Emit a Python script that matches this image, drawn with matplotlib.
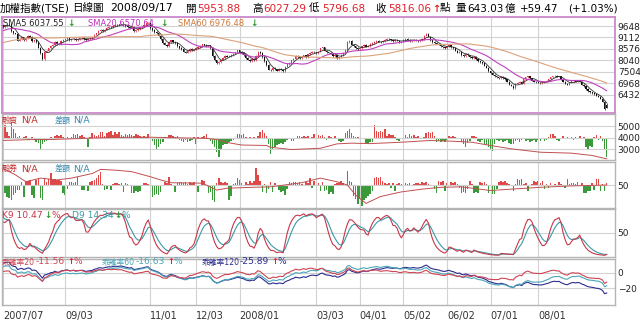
import numpy as np
import pandas as pd
import matplotlib
matplotlib.use("Agg")
import matplotlib.pyplot as plt

plt.rcParams['font.family'] = ['DejaVu Sans', 'Noto Sans CJK TC']

# ---- values: TAIEX daily, 2007/07/23 .. 2008/09/17 ----
# closes before the first visible bar, only used to warm up SMA60/120 and KD
pre_closes = [
    7900, 7920, 7950, 7980, 7960, 8000, 8020, 7990, 8050, 8080, 8100, 8060, 8120, 8150, 8100, 8130, 8080, 7950, 7800, 7850,
    7900, 7950, 7980, 8020, 8050, 8000, 7980, 8030, 8070, 8100, 8120, 8150, 8180, 8140, 8200, 8230, 8250, 8220, 8260, 8300,
    8280, 8320, 8350, 8330, 8380, 8400, 8420, 8380, 8350, 8400, 8450, 8430, 8470, 8500, 8480, 8450, 8500, 8520, 8480, 8510,
    8330, 8300, 8270, 8250, 8230, 8270, 8300, 8330, 8370, 8400, 8380, 8350, 8410, 8450, 8430, 8470, 8500, 8530, 8550, 8570,
    8600, 8650, 8680, 8700, 8660, 8620, 8650, 8700, 8750, 8730, 8780, 8800, 8770, 8820, 8850, 8900, 8880, 8920, 8950, 8980,
    9100, 9050, 9120, 9180, 9250, 9220, 9300, 9350, 9400, 9380, 9450, 9500, 9480, 9550, 9600, 9620, 9580, 9650, 9700, 9680,
]

closes = (
    [9580, 9650, 9700, 9720, 9400, 9300, 9290]                                   # 2007/07
    + [8970, 9040, 9120, 9000, 9080, 9190, 9150, 8930, 8980, 8900, 8640, 8370,
       8090, 8450, 8500, 8600, 8720, 8750, 8900, 8800, 8800, 8950, 9000]          # 08
    + [9050, 9080, 9000, 9020, 9060, 8990, 9030, 9070, 9100, 9050, 8980, 9040,
       9080, 9120, 9250, 9300, 9420, 9450, 9410]                                  # 09
    + [9480, 9550, 9600, 9580, 9640, 9700, 9680, 9720, 9760, 9700, 9650, 9600,
       9560, 9620, 9420, 9450, 9520, 9580, 9620, 9700, 9780, 9800]                # 10
    + [9550, 9450, 9380, 9300, 9200, 9050, 8850, 8780, 8720, 8900, 8980, 8900,
       8850, 8700, 8620, 8560, 8450, 8400, 8480, 8580, 8520, 8560]                # 11
    + [8620, 8660, 8720, 8790, 8760, 8700, 8740, 8620, 8250, 8050, 7920, 7960,
       8080, 8150, 8260, 8220, 8240, 8300, 8350, 8420, 8506]                      # 12
    + [8450, 8380, 8300, 8150, 8080, 8020, 8100, 8050, 8250, 8450, 8380, 8200,
       8000, 7820, 7600, 7580, 7680, 7620, 7560, 7640, 7600, 7540]                # 2008/01
    + [7750, 7850, 7920, 8050, 8120, 8250, 8200, 8150, 8220, 8280, 8200, 8320,
       8400, 8450, 8412]                                                          # 02
    + [8380, 8450, 8600, 8650, 8500, 8420, 8400, 8350, 8250, 8300, 8150, 8180,
       8300, 8400, 8520, 8900, 8950, 8780, 8700, 8620, 8572]                      # 03
    + [8620, 8700, 8760, 8680, 8720, 8800, 8850, 8900, 8950, 8920, 8880, 8950,
       9000, 9050, 9020, 8980, 8950, 9000, 8960, 8900, 8919]                      # 04
    + [9000, 9030, 9000, 8950, 8980, 9010, 8960, 8950, 9000, 9050, 9200, 9290,
       9150, 8980, 8900, 8850, 8820, 8780, 8700, 8650, 8619]                      # 05
    + [8700, 8750, 8650, 8600, 8500, 8400, 8450, 8300, 8250, 8350, 8280, 8200,
       8150, 8220, 8100, 8000, 7950, 7900, 7800, 7700, 7523]                      # 06
    + [7450, 7380, 7300, 7250, 7200, 7280, 7220, 7150, 7050, 6900, 6850, 6750,
       6950, 7000, 7050, 6950, 7150, 7250, 7300, 7200, 7100, 7050, 7024]          # 07
    + [7000, 6980, 6990, 7050, 7100, 7150, 7250, 7300, 7320, 7280, 7300, 7150,
       7050, 6950, 6900, 7000, 7080, 7100, 7050, 7080, 7046]                      # 08
    + [6900, 6820, 6700, 6600, 6550, 6500, 6450, 6380, 6350, 6250, 6100,
       5756.59, 5816.06]                                                          # 09
)
last_open, last_high, last_low = 5953.88, 6027.29, 5796.68

tick_idx = [0, 30, 71, 93, 114, 151, 172, 193, 214, 235, 258]
tick_labels = ['2007/07', '09/03', '11/01', '12/03', '2008/01', '03/03',
               '04/01', '05/02', '06/02', '07/01', '08/01']

# 融資 daily change (bars) and balance (line)
margin_chg = [
    8, 13, 6, 2, 15, 9, 5, 1, 2, -1, 1, 2, -2, -1, 1, -2, -4, -5, -12, -6,
    -4, -3, -2, 1, 0, 2, 3, 2, 3, 1, 0, 1, -1, 1, 4, 3, 4, 2, 3, 1,
    0, -9, 1, 5, 3, 2, 3, 6, 6, 2, 5, 6, 7, 3, 6, 4, 6, 3, 2, 4,
    3, 4, 3, 2, 4, 3, 2, 1, 2, 1, 4, -4, -3, -7, -12, -9, -6, -4, 1, 0,
    3, 3, 2, 1, 2, -2, -3, -4, -2, -4, -3, -2, 1, -6, 1, 0, 1, 2, 4, 0,
    -3, -6, -9, -14, -19, -11, -7, -6, -6, -4, -3, -2, -1, 4, 4, 3, 4, 1, 0, 1,
    -1, 1, 0, 2, 6, 8, 5, 2, -6, -16, -12, -9, -7, -6, -5, -6, -4, -2, 0, -3,
    -3, 0, 2, 2, 1, 2, 1, 2, 0, 1, 4, 4, 3, 2, 3, 1, -2, 2, 1, 0,
    2, -1, -3, -4, -3, 5, 7, 9, 5, 2, 1, 1, 0, -1, -1, -5, -6, -4, -4, 13,
    7, 6, 7, 6, 9, 2, 4, 3, 3, 1, -2, -3, 0, 2, 3, 1, 4, 2, 3, 1,
    2, 0, -1, 1, 5, 6, 5, 6, 2, -4, -3, -4, -3, -4, -2, 2, 1, 2, 1, 0,
    -1, -4, -6, -9, -5, -3, 2, 2, 1, -3, -4, -2, -6, -7, -9, -11, -13, -6, -2, -3,
    -2, -4, -3, -2, -5, -6, -6, -3, -2, -4, -2, -1, -3, -2, -4, -3, -2, -4, -2, -3,
    -1, -3, -2, 1, 4, 4, 2, -2, -3, -1, 2, -1, 1, -1, 1, -2, 1, 0, 2, -1,
    1, -9, -11, -8, -9, 1, 3, -2, 2, -3, -12, -19,
]
margin_idx = [0, 14, 23, 47, 63, 71, 98, 103, 108, 115, 127, 129, 139, 153, 161,
              168, 177, 192, 206, 216, 226, 235, 245, 259, 274, 284, 291]
margin_bal = [3770, 3850, 3850, 4000, 4050, 4050, 3950, 3850, 3600, 3380, 3340, 3190, 2990, 3100, 3480,
              3540, 3500, 3620, 3770, 3710, 3620, 3340, 3050, 2760, 2680, 2480, 2190]

# 融券 daily change (bars) and balance (line)
short_chg = [
    0, -7, -11, -12, -14, -9, -7, -4, -4, 4, -11, 5, 5, 6, -9, -12, 6, 8, -12, -14,
    8, 4, 7, 13, 6, 7, 6, 6, 5, -7, -9, -3, 4, 4, 3, 4, 9, 1, -4, -4,
    1, -5, 4, 5, 6, 8, 11, 14, 2, -4, -3, 1, -4, 2, 3, 3, 2, 3, -6, 3,
    2, 1, -7, -7, -5, -6, -5, 1, 3, 3, 2, -7, -11, -9, -8, -9, -6, 1, 4, 3,
    9, 2, 1, -6, 3, 4, 4, 3, 4, 2, 4, 3, 4, 1, -6, 1, 6, 5, 1, -7,
    -6, -14, -16, 3, 8, 4, 3, 4, 3, -14, -10, 2, 3, 8, 6, 3, 1, 4, 2, 5,
    3, 5, 18, 11, 5, -6, 2, -7, -3, 4, -6, 3, 1, -4, -6, -5, -9, -3, 4, 3,
    4, 4, 3, 4, 2, 1, 4, 3, 8, -2, 5, 8, 3, -5, 4, -5, -4, -8, -6, -8,
    2, 3, 3, 5, 3, 2, 15, 5, 4, -10, -13, -18, -13, -20, -14, -12, -10, -8, -5, 8,
    9, 8, 9, 5, 3, 2, 3, -2, 3, -5, 2, 3, 2, 1, 3, 2, 3, 1, 2, 3,
    3, 2, 4, 3, 4, 2, 1, 1, -3, -7, 5, 4, 5, -5, 3, 1, 4, 3, 4, 2,
    -2, -7, -6, -7, -3, 5, 2, -7, -6, -7, 4, 3, 4, 2, -7, 1, -8, -8, -3, 4,
    5, 4, 5, 3, 2, 1, -5, 2, 7, 6, 7, 2, 3, -5, 1, 2, 5, 4, 5, 3,
    5, -3, 2, -2, 3, 1, 2, 1, 4, 2, 1, -2, 7, 2, 3, 3, 2, 4, 1, 3,
    -7, -7, -5, -5, 3, -4, 7, 7, -5, 2, -5, 3,
]
short_idx = [0, 6, 11, 18, 26, 33, 43, 47, 55, 62, 71, 76, 81, 96, 103, 108, 120,
             129, 144, 153, 161, 166, 170, 175, 182, 192, 202, 211, 221, 235, 245,
             259, 274, 291]
short_bal = [86, 72, 57, 65, 61, 65, 75, 84, 82, 79, 68, 61, 55, 54, 39, 43, 45,
             46, 55, 65, 57, 50, 28, 10, 25, 35, 41, 45, 46, 38, 41, 45, 48, 50]

price_ticks = [6432, 6968, 7504, 8040, 8576, 9112, 9648]
margin_ticks = [3000, 4000, 5000]

# ---- indicators ----
n_pre = len(pre_closes)
allc = pd.Series(pre_closes + closes, dtype=float)
cv = allc.values
opens = np.r_[cv[0], cv[:-1]]
opens[-1] = last_open
wick = 0.004 * cv
highs = np.maximum(opens, cv) + wick
lows = np.minimum(opens, cv) - wick
highs[-1], lows[-1] = last_high, last_low

sma = {n: allc.rolling(n).mean().values for n in (5, 20, 60, 120)}
bias = {n: (cv / sma[n] - 1) * 100 for n in (20, 60, 120)}

h9 = pd.Series(highs).rolling(9, min_periods=1).max().values
l9 = pd.Series(lows).rolling(9, min_periods=1).min().values
rsv = (cv - l9) / (h9 - l9) * 100
k = np.empty(len(cv))
d = np.empty(len(cv))
kp = dp = 50.0
for j, r in enumerate(rsv):
    kp = kp * 2 / 3 + r / 3
    dp = dp * 2 / 3 + kp / 3
    k[j], d[j] = kp, dp

vis = slice(n_pre, None)
x = np.arange(len(closes))

# ---- figure ----
W, H = 640, 322
fig = plt.figure(figsize=(W / 100, H / 100), dpi=100)
XL = (-0.5, 295.0)
grid_c = '#d2d2d2'
red = '#e0202a'
green = '#2e9a2e'


def panel(top, bottom, edge='#b4b4b4'):
    ax = fig.add_axes([2 / W, 1 - bottom / H, 613 / W, (bottom - top) / H])
    ax.set_xlim(*XL)
    ax.set_xticks(tick_idx)
    ax.tick_params(axis='x', length=0, labelbottom=False)
    ax.grid(True, color=grid_c, lw=0.8)
    ax.set_axisbelow(True)
    for s in ax.spines.values():
        s.set_color(edge)
        s.set_linewidth(1.0)
    return ax


def right_labels(ax, ticks):
    ax.set_yticks(ticks)
    ax.yaxis.set_ticks_position('right')
    ax.tick_params(axis='y', length=0, pad=2, labelsize=6.5, labelcolor='#222222',
                   labelleft=False, labelright=True)


def bar_twin(ax, lo, hi, vals):
    axb = ax.twinx()
    axb.set_xlim(*XL)
    axb.set_ylim(lo, hi)
    axb.axis('off')
    axb.patch.set_visible(True)
    axb.patch.set_facecolor('white')
    ax.set_zorder(axb.get_zorder() + 1)
    ax.patch.set_visible(False)
    v = np.array(vals)
    axb.bar(x, v, width=0.75, color=np.where(v >= 0, '#e04848', '#3a9a3a'), linewidth=0)
    return axb


def ptext(px, py, s, color, size=6.5, **kw):
    fig.text(px / W, 1 - py / H, s, color=color, fontsize=size,
             ha='left', va='center', **kw)


# main price panel
ax = panel(17, 113, edge='#cc88cc')
for s in ax.spines.values():
    s.set_linewidth(1.3)
ax.set_ylim(5580, 10070)
right_labels(ax, price_ticks)
o, c = opens[vis], cv[vis]
up = c >= o
ccol = np.where(up, '#e0304a', '#111111')
ax.vlines(x, lows[vis], highs[vis], colors=ccol, lw=0.5)
ax.bar(x, np.maximum(np.abs(c - o), 22), bottom=np.minimum(o, c), width=0.62,
       color=ccol, linewidth=0)
ax.plot(x, sma[5][vis], color='#333333', lw=0.6)
ax.plot(x, sma[20][vis], color='#c040c0', lw=0.8)
ax.plot(x, sma[60][vis], color='#dca27a', lw=0.8)

# margin panel
ax1 = panel(114, 159.5)
ax1.set_ylim(2134, 6047)
bar_twin(ax1, -21.3, 24.2, margin_chg)
right_labels(ax1, margin_ticks)
ax1.plot(margin_idx, margin_bal, color='#c05050', lw=0.7)

# short panel
ax2 = panel(161.5, 207.5)
ax2.set_ylim(1.1, 101.1)
bar_twin(ax2, -21.5, 24.5, short_chg)
right_labels(ax2, [50])
ax2.plot(short_idx, short_bal, color='#c05050', lw=0.7)

# KD panel
ax3 = panel(209, 257)
ax3.set_ylim(0, 100)
right_labels(ax3, [50])
ax3.plot(x, d[vis], color='#3a9aa8', lw=0.8)
ax3.plot(x, k[vis], color='#c8384a', lw=0.8)

# bias panel
ax4 = panel(258.5, 305)
ax4.set_ylim(-41.4, 18.2)
right_labels(ax4, [-20, 0])
ax4.plot(x, bias[120][vis], color='#2c2c90', lw=0.8)
ax4.plot(x, bias[60][vis], color='#4aa6b8', lw=0.8)
ax4.plot(x, bias[20][vis], color='#d04454', lw=0.8)
ax4.tick_params(axis='x', labelbottom=True, labelsize=7, labelcolor='#333333', pad=4)
ax4.set_xticklabels(tick_labels, ha='left')

# ---- texts ----
ty = 8.5
ptext(0, ty, '加權指數(TSE)', 'black', 7.6)
ptext(72, ty, '日線圖', 'black', 7.6)
ptext(110, ty, '2008/09/17', 'black', 7.8)
ptext(185, ty, '開', 'black', 7.6)
ptext(197, ty, '5953.88', red, 7.5)
ptext(252, ty, '高', 'black', 7.6)
ptext(263, ty, '6027.29', red, 7.5)
ptext(309, ty, '低', 'black', 7.6)
ptext(322, ty, '5796.68', red, 7.5)
ptext(375, ty, '收', 'black', 7.6)
ptext(388, ty, '5816.06', red, 7.5)
ptext(432, ty, '↑', red, 7, fontweight='bold')
ptext(440, ty, '點', 'black', 7.6)
ptext(456, ty, '量', 'black', 7.6)
ptext(467, ty, '643.03', 'black', 7.5)
ptext(505, ty, '億', 'black', 7.6)
ptext(520, ty, '+59.47', 'black', 7.5)
ptext(568, ty, '(+1.03%)', 'black', 7.5)

ptext(3, 23, 'SMA5 6037.55', '#222222', 6)
ptext(67, 23, '↓', green, 6.5, fontweight='bold')
ptext(88, 23, 'SMA20 6570.64', '#c030c0', 6)
ptext(160, 23, '↓', green, 6.5, fontweight='bold')
ptext(178, 23, 'SMA60 6976.48', '#d07838', 6)
ptext(250, 23, '↓', green, 6.5, fontweight='bold')

for py, name in ((120, '融資'), (168.5, '融券')):
    ptext(2, py, name, '#c03030', 5.8)
    ptext(21, py, 'N/A', '#c03030', 6.8)
    ptext(55, py, '差額', '#3a8ab0', 5.8)
    ptext(73, py, 'N/A', '#3a8ab0', 6.8)

ptext(2, 215, 'K9 10.47', '#c8384a', 6.6)
ptext(44, 215, '↓', green, 6.2, fontweight='bold')
ptext(51, 215, '%', '#c8384a', 6.6)
ptext(72, 215, 'D9 14.34', '#3a9aa8', 6.6)
ptext(114, 215, '↓', green, 6.2, fontweight='bold')
ptext(121, 215, '%', '#3a9aa8', 6.6)

for px, name, val, col in ((2, '乖離率20', '-11.56', '#d04454'),
                           (102, '乖離率60', '-16.63', '#4aa6b8'),
                           (202, '乖離率120', '-25.89', '#2c2c90')):
    ptext(px, 262, name, col, 5.6)
    off = 34 if name != '乖離率120' else 38
    ptext(px + off, 262, val, col, 6.6)
    ptext(px + off + 31, 262, '↑', red, 6, fontweight='bold')
    ptext(px + off + 38, 262, '%', col, 6.6)

fig.savefig('out.png', dpi=100)
